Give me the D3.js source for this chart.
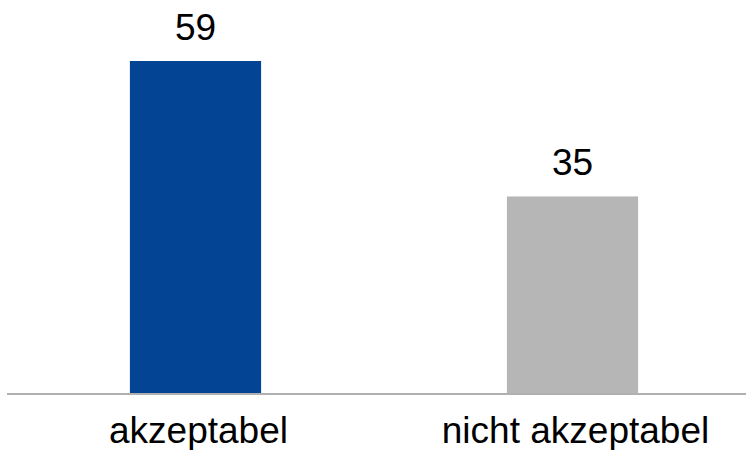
<!DOCTYPE html>
<html>
<head>
<meta charset="utf-8">
<script src="https://cdn.jsdelivr.net/npm/d3@7"></script>
<style>
  body { margin: 0; background: #fff; }
  svg { display: block; font-family: "Liberation Sans", Arial, sans-serif; }
</style>
</head>
<body>
<main></main>
<script>
// chart data
const categories = ["akzeptabel", "nicht akzeptabel"];
const values = [59, 35];
const barColors = ["#034494", "#b6b6b6"];

const svgSize = { width: 746, height: 450 };

const svg = d3.select("main")
              .append("svg")
              .attr("width", svgSize.width)
              .attr("height", svgSize.height);

const xScale = d3.scaleBand()
                 .domain(categories)
                 .range([7, 761])
                 .paddingInner(0.652)
                 .paddingOuter(0.326);

const yScale = d3.scaleLinear()
                 .domain([0, 59])
                 .range([394, 61]);

// bars
svg.selectAll("rect.bar")
   .data(values)
   .enter()
   .append("rect")
   .attr("class", "bar")
   .attr("x", (d, i) => xScale(categories[i]))
   .attr("y", d => yScale(d))
   .attr("width", xScale.bandwidth())
   .attr("height", d => yScale(0) - yScale(d))
   .attr("fill", (d, i) => barColors[i]);

// value labels
svg.selectAll("text.value")
   .data(values)
   .enter()
   .append("text")
   .attr("class", "value")
   .attr("x", (d, i) => xScale(categories[i]) + xScale.bandwidth() / 2)
   .attr("y", d => yScale(d) - 21)
   .attr("text-anchor", "middle")
   .attr("font-size", 37)
   .attr("fill", "#000")
   .text(d => d);

// x axis
const xAxis = svg.append("g")
                 .attr("transform", `translate(0, ${yScale(0)})`)
                 .call(d3.axisBottom(xScale).tickSize(0).tickPadding(0));
xAxis.select(".domain").remove();
xAxis.append("line")
     .attr("x1", 7)
     .attr("x2", svgSize.width)
     .attr("stroke", "#b0b0b0")
     .attr("stroke-width", 2);
xAxis.selectAll(".tick text")
     .attr("dy", 0)
     .attr("y", 49)
     .attr("dx", 3)
     .attr("font-size", 37)
     .attr("font-family", "Liberation Sans, Arial, sans-serif")
     .attr("fill", "#000");
</script>
</body>
</html>
